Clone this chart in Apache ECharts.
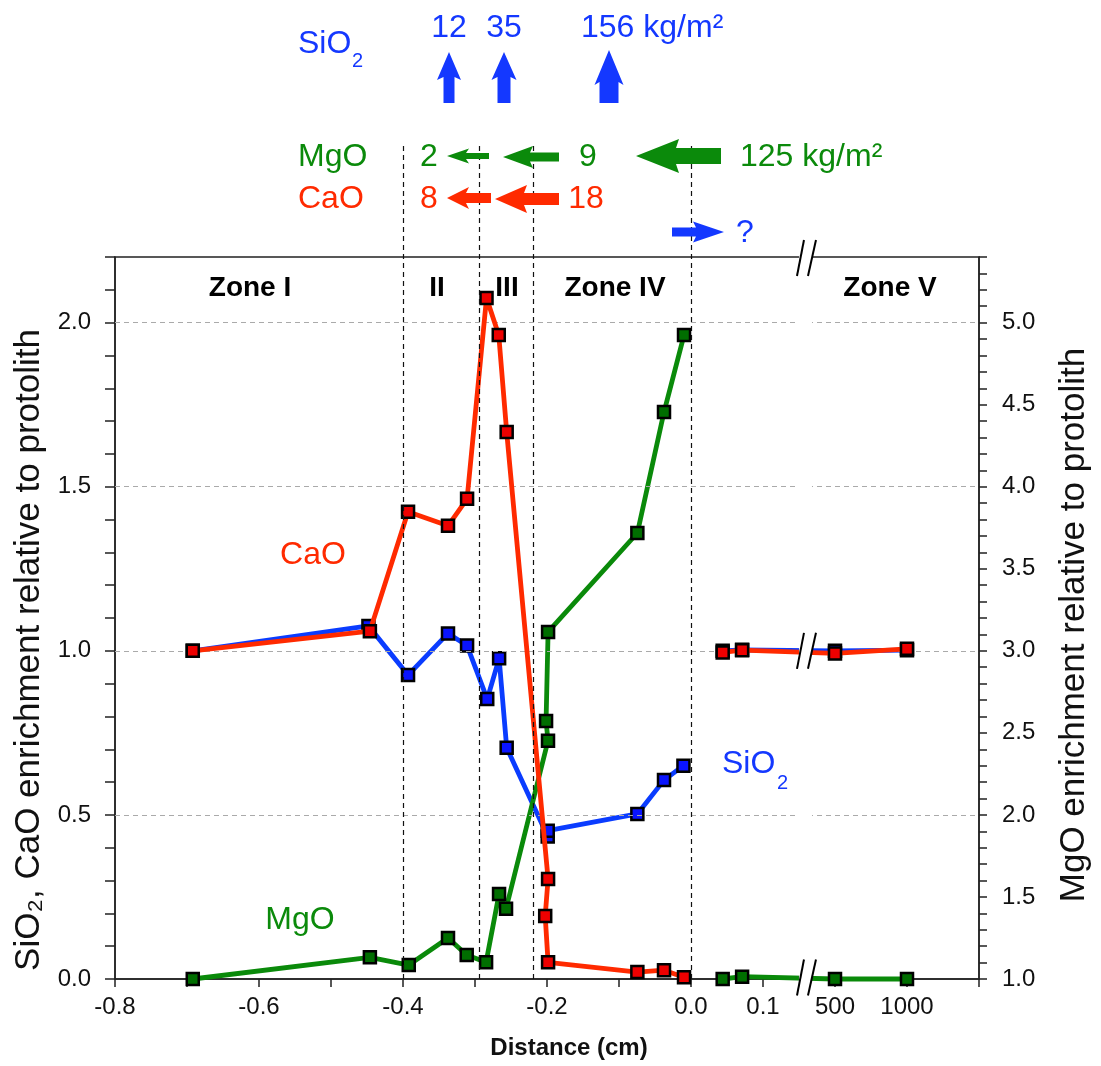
<!DOCTYPE html>
<html><head><meta charset="utf-8">
<script src="https://cdn.jsdelivr.net/npm/echarts@6/dist/echarts.min.js"></script>
<style>html,body{margin:0;padding:0;background:#fff}#c{width:1101px;height:1066px}</style>
</head><body><div id="c"></div>
<script>
// ---------- data (distance in cm; far samples at 500 and 1000 cm) ----------
const caoDist  = [-0.692, -0.446, -0.393, -0.3375, -0.311, -0.284, -0.267, -0.256, -0.1985, -0.2025, -0.1985, -0.0745, -0.0375, -0.0097];
const caoVal   = [1.000, 1.060, 1.424, 1.381, 1.463, 2.075, 1.962, 1.667, 0.305, 0.192, 0.051, 0.021, 0.027, 0.005];
const sio2Dist = [-0.692, -0.448, -0.393, -0.3375, -0.311, -0.283, -0.2665, -0.256, -0.199, -0.199, -0.0745, -0.0375, -0.0105];
const sio2Val  = [1.000, 1.076, 0.926, 1.053, 1.016, 0.853, 0.977, 0.705, 0.434, 0.452, 0.503, 0.606, 0.650];
const mgoDist  = [-0.692, -0.446, -0.392, -0.3375, -0.3115, -0.2846, -0.2666, -0.2569, -0.1986, -0.2013, -0.1985, -0.0745, -0.0375, -0.0097];
const mgoVal   = [1.000, 1.132, 1.085, 1.250, 1.146, 1.102, 1.518, 1.428, 2.452, 2.572, 3.115, 3.718, 4.455, 4.924];
const farDist  = [0.044, 0.071, 500, 1000];
const caoFar   = [0.995, 1.002, 0.992, 1.006];
const sio2Far  = [1.000, 1.003, 1.000, 1.002];
const mgoFar   = [1.000, 1.014, 1.000, 1.000];

const xTickValues = [-0.8, -0.6, -0.4, -0.2, 0.0, 0.1, 500, 1000];
const xTickLabels = ['-0.8', '-0.6', '-0.4', '-0.2', '0.0', '0.1', '500', '1000'];
const yLeftTickLabels  = ['0.0', '0.5', '1.0', '1.5', '2.0'];
const yRightTickLabels = ['1.0', '1.5', '2.0', '2.5', '3.0', '3.5', '4.0', '4.5', '5.0'];
const gridValues = [0.5, 1.0, 1.5, 2.0];
const zoneBoundaries = [-0.4, -0.2944, -0.2199, 0.0];
const axisBreakAt = 0.159;

// broken axis: cm values up to 0.1 are linear; far samples mapped past the break
function axisPos(d) { return d > 1 ? 0.1 + d / 5000 : d; }
const r1 = v => Math.round(v * 10) / 10;
const xLabelMap = {};
xTickValues.forEach((v, i) => { xLabelMap[r1(axisPos(v)).toFixed(1)] = xTickLabels[i]; });
const yLeftMap = {}; yLeftTickLabels.forEach(s => yLeftMap[s] = s);
const yRightMap = {}; yRightTickLabels.forEach(s => yRightMap[s] = s);

const FONT = '"Liberation Sans", Arial, Helvetica, sans-serif';
const C_RED = '#ff2a00', C_BLUE = '#1438ff', C_GREEN = '#0b8a0b';

function mk(name, dist, vals, yIdx, lineColor, fill, z) {
  return {
    type: 'line', name: name, yAxisIndex: yIdx, z: z, clip: false,
    data: dist.map((d, i) => [axisPos(d), vals[i]]),
    symbol: 'rect', symbolSize: 12, showAllSymbol: true,
    itemStyle: { color: fill, borderColor: '#000', borderWidth: 2.5 },
    lineStyle: { color: lineColor, width: 4.8 },
    emphasis: { disabled: true }, silent: true
  };
}

const chart = echarts.init(document.getElementById('c'), null, { renderer: 'canvas' });
const axisCommon = {
  axisLine: { show: true, onZero: false, lineStyle: { color: '#222', width: 1.5 } },
  axisTick: { show: true, inside: false, lineStyle: { color: '#222', width: 1.5 } },
  splitLine: { show: false }
};
chart.setOption({
  animation: false,
  backgroundColor: '#fff',
  textStyle: { fontFamily: FONT },
  grid: { left: 115, right: 122, top: 257, bottom: 87, containLabel: false, outerBoundsMode: 'none',
          show: true, borderColor: '#222', borderWidth: 1.5, backgroundColor: 'transparent' },
  xAxis: Object.assign({}, axisCommon, {
    type: 'value', min: -0.8, max: 0.4, interval: 0.1,
    axisTick: { show: true, length: 8, lineStyle: { color: '#222', width: 1.5 } },
    axisLabel: { fontSize: 24, color: '#111', margin: 16, fontFamily: FONT, showMinLabel: true, showMaxLabel: true,
      formatter: v => xLabelMap[r1(v).toFixed(1)] || '' },
    name: 'Distance (cm)', nameLocation: 'middle', nameGap: 57,
    nameTextStyle: { fontSize: 24, fontWeight: 'bold', color: '#111', fontFamily: FONT, padding: [0, 0, 0, 44] }
  }),
  yAxis: [
    Object.assign({}, axisCommon, {
      type: 'value', position: 'left', min: 0, max: 2.2, interval: 0.1,
      axisTick: { show: true, length: 10, lineStyle: { color: '#222', width: 1.5 } },
      axisLabel: { fontSize: 24, color: '#111', margin: 24, fontFamily: FONT, showMinLabel: true, showMaxLabel: true,
        formatter: v => yLeftMap[r1(v).toFixed(1)] || '' },
      name: 'SiO\u2082, CaO enrichment relative to protolith', nameLocation: 'middle', nameGap: 56,
      nameTextStyle: { fontSize: 35, color: '#111', fontFamily: FONT, padding: [0, 64, 0, 0] }
    }),
    Object.assign({}, axisCommon, {
      type: 'value', position: 'right', min: 1, max: 5.4, interval: 0.1,
      axisTick: { show: true, length: 8, lineStyle: { color: '#222', width: 1.5 } },
      axisLabel: { fontSize: 24, color: '#111', margin: 23, fontFamily: FONT, showMinLabel: true, showMaxLabel: true,
        formatter: v => yRightMap[r1(v).toFixed(1)] || '' },
      name: 'MgO enrichment relative to protolith', nameLocation: 'middle', nameGap: 78,
      nameTextStyle: { fontSize: 35, color: '#111', fontFamily: FONT, padding: [0, 14, 0, 0] }
    })
  ],
  series: [
    { type: 'line', data: [], yAxisIndex: 0, z: 1, silent: true,
      markLine: { silent: true, symbol: 'none', animation: false, label: { show: false },
        lineStyle: { color: '#aaa', type: [5, 4], width: 1 },
        data: gridValues.map(v => ({ yAxis: v })) } },
    mk('SiO2', sio2Dist, sio2Val, 0, '#0a3cff', '#0a14ff', 3),
    mk('SiO2 far', farDist, sio2Far, 0, '#0a3cff', '#0a14ff', 3),
    mk('MgO', mgoDist, mgoVal, 1, '#0a8a0a', '#006e00', 4),
    mk('MgO far', farDist, mgoFar, 1, '#0a8a0a', '#006e00', 4),
    mk('CaO', caoDist, caoVal, 0, '#ff2a00', '#ee0000', 5),
    mk('CaO far', farDist, caoFar, 0, '#ff2a00', '#ee0000', 5)
  ]
});

// ---------- annotations ----------
const px = v => chart.convertToPixel({ xAxisIndex: 0 }, v);
const pyL = v => chart.convertToPixel({ yAxisIndex: 0 }, v);
const yBottom = pyL(0), yTop = pyL(2.2), yOne = pyL(1.0);
const g = [];
function txt(x, y, s, color, size, align, weight) {
  g.push({ type: 'text', x: x, y: y, z: 100, silent: true,
    style: { text: s, fill: color, font: (weight || 'normal') + ' ' + size + 'px ' + FONT,
             align: align || 'center', verticalAlign: 'middle' } });
}
function poly(pts, color) { g.push({ type: 'polygon', z: 100, silent: true, shape: { points: pts }, style: { fill: color } }); }
function up(cx, tip, hb, bot, sh, hh, c) {
  poly([[cx, tip], [cx + hh, hb + 3], [cx + sh, hb], [cx + sh, bot], [cx - sh, bot], [cx - sh, hb], [cx - hh, hb + 3]], c);
}
function left(cy, tip, hb, tail, sh, hh, c) {
  poly([[tip, cy], [hb + 3, cy - hh], [hb, cy - sh], [tail, cy - sh], [tail, cy + sh], [hb, cy + sh], [hb + 3, cy + hh]], c);
}
function right(cy, tip, hb, tail, sh, hh, c) {
  poly([[tip, cy], [hb - 3, cy - hh], [hb, cy - sh], [tail, cy - sh], [tail, cy + sh], [hb, cy + sh], [hb - 3, cy + hh]], c);
}

// zone boundary dashed lines
zoneBoundaries.forEach(b => {
  const x = Math.round(px(b)) + 0.5;
  g.push({ type: 'line', z: 90, silent: true, shape: { x1: x, y1: 146, x2: x, y2: yBottom },
    style: { stroke: '#111', lineWidth: 1.2, lineDash: [5, 4] } });
});

// axis break
const bx = px(axisBreakAt);
g.push({ type: 'rect', z: 95, silent: true, shape: { x: bx - 6.5, y: yTop - 2, width: 13, height: yBottom - yTop + 4 }, style: { fill: '#fff' } });
[yTop + 1, yOne, yBottom - 1.5].forEach(cy => {
  const l1 = bx - 8.5, r1x = bx + 2.5;
  poly([[l1, cy + 18], [l1 + 7, cy - 18], [r1x + 8, cy - 18], [r1x, cy + 18]], '#fff');
  g.push({ type: 'line', z: 101, silent: true, shape: { x1: l1, y1: cy + 18, x2: l1 + 7, y2: cy - 18 }, style: { stroke: '#000', lineWidth: 2 } });
  g.push({ type: 'line', z: 101, silent: true, shape: { x1: r1x, y1: cy + 18, x2: r1x + 8, y2: cy - 18 }, style: { stroke: '#000', lineWidth: 2 } });
});

// zone labels
txt(250, 288, 'Zone I', '#000', 28, 'center', 'bold');
txt(437, 288, 'II', '#000', 28, 'center', 'bold');
txt(507, 288, 'III', '#000', 28, 'center', 'bold');
txt(615, 288, 'Zone IV', '#000', 28, 'center', 'bold');
txt(890, 288, 'Zone V', '#000', 28, 'center', 'bold');

// in-plot series labels
txt(313, 555, 'CaO', C_RED, 32);
txt(300, 920, 'MgO', C_GREEN, 32);
txt(722, 764, 'SiO', C_BLUE, 32, 'left');
txt(777, 783, '2', C_BLUE, 20, 'left');

// top annotation: SiO2 fluxes
txt(298, 44, 'SiO', C_BLUE, 32, 'left');
txt(352, 61, '2', C_BLUE, 20, 'left');
txt(449, 28, '12', C_BLUE, 32);
txt(504, 28, '35', C_BLUE, 32);
txt(581, 28, '156 kg/m\u00b2', C_BLUE, 32, 'left');
up(449, 52, 77, 103, 5.5, 12, C_BLUE);
up(504, 52, 77, 103, 6.5, 12.5, C_BLUE);
up(609, 50, 82, 103, 9.5, 14.5, C_BLUE);

// MgO row
txt(298, 157, 'MgO', C_GREEN, 32, 'left');
txt(429, 157, '2', C_GREEN, 32);
txt(588, 157, '9', C_GREEN, 32);
txt(740, 157, '125 kg/m\u00b2', C_GREEN, 32, 'left');
left(156, 447, 466, 489, 3, 7.5, C_GREEN);
left(157, 503, 530, 559, 4.5, 11, C_GREEN);
left(156, 636, 676, 721, 8, 17, C_GREEN);

// CaO row
txt(298, 199, 'CaO', C_RED, 32, 'left');
txt(429, 199, '8', C_RED, 32);
txt(586, 199, '18', C_RED, 32);
left(198, 447, 466, 491, 5, 11, C_RED);
left(199, 495, 524, 559, 6, 14, C_RED);

// unknown flux
right(232, 724, 696, 672, 4.5, 10.5, C_BLUE);
txt(745, 233, '?', C_BLUE, 32);

chart.setOption({ graphic: { elements: g } });
</script>
</body></html>
